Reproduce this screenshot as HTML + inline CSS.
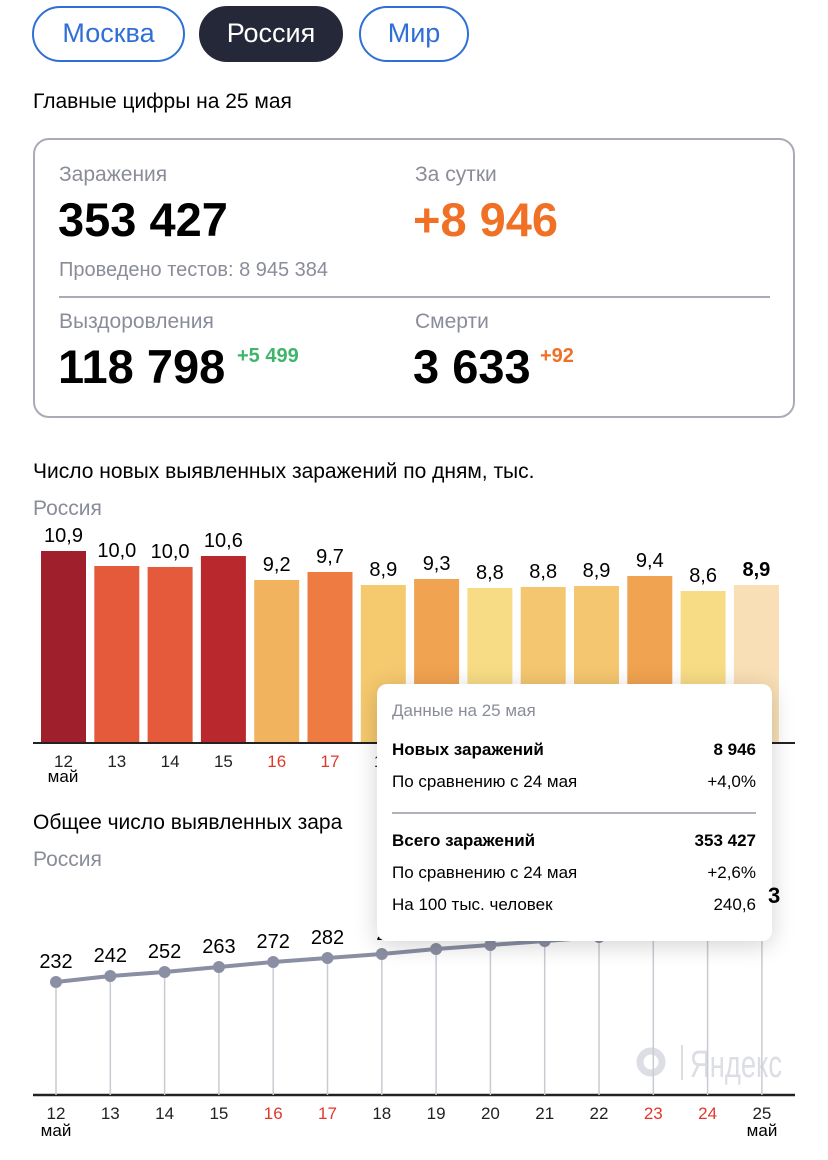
<!DOCTYPE html>
<html><head><meta charset="utf-8"><style>
body{margin:0;width:828px;height:1160px;background:#fff;font-family:"Liberation Sans","DejaVu Sans",sans-serif;position:relative;overflow:hidden;color:#000}
.a{position:absolute;white-space:nowrap}
.pill{position:absolute;top:6px;height:56px;border:2.5px solid #2f6fd6;border-radius:30px;box-sizing:border-box;color:#2f6fd6;font-size:27px;line-height:51px;text-align:center}
.g{color:#8a8d99}
</style></head><body>
<div class="pill" style="left:32px;width:153px">Москва</div>
<div class="pill" style="left:199px;width:144px;background:#252838;border-color:#252838;color:#fff">Россия</div>
<div class="pill" style="left:359px;width:110px">Мир</div>
<div class="a" style="left:33px;top:90px;font-size:21px">Главные цифры на 25 мая</div>
<div class="a" style="left:33px;top:138px;width:762px;height:280px;border:2px solid #a9acb6;border-radius:16px;box-sizing:border-box"></div>
<div class="a g" style="left:59px;top:163px;font-size:21px">Заражения</div>
<div class="a" style="left:58px;top:192px;font-size:47px;font-weight:bold">353 427</div>
<div class="a g" style="left:59px;top:259px;font-size:20px">Проведено тестов: 8 945 384</div>
<div class="a g" style="left:415px;top:163px;font-size:21px">За сутки</div>
<div class="a" style="left:413px;top:192px;font-size:47px;font-weight:bold;color:#f07026">+8 946</div>
<div class="a" style="left:59px;top:296px;width:711px;height:2px;background:#a9acb6"></div>
<div class="a g" style="left:59px;top:310px;font-size:21px">Выздоровления</div>
<div class="a" style="left:58px;top:339px;font-size:47px;font-weight:bold">118 798</div>
<div class="a" style="left:237px;top:345px;font-size:20px;font-weight:bold;color:#3fb56b">+5 499</div>
<div class="a g" style="left:415px;top:310px;font-size:21px">Смерти</div>
<div class="a" style="left:413px;top:339px;font-size:47px;font-weight:bold">3 633</div>
<div class="a" style="left:540px;top:345px;font-size:20px;font-weight:bold;color:#f07026">+92</div>
<div class="a" style="left:33px;top:460px;font-size:21px">Число новых выявленных заражений по дням, тыс.</div>
<div class="a g" style="left:33px;top:497px;font-size:21px">Россия</div>
<div class="a" style="left:33px;top:811px;font-size:21px">Общее число выявленных зара</div>
<div class="a g" style="left:33px;top:848px;font-size:21px">Россия</div>
<svg class="a" style="left:0;top:0" width="828" height="1160" font-family="Liberation Sans, sans-serif">
<g id="bars"></g>
<line x1="33" y1="743" x2="795" y2="743" stroke="#222" stroke-width="2"/>
<line x1="33" y1="1095" x2="795" y2="1095" stroke="#222" stroke-width="2.5"/>
<circle cx="651" cy="1062" r="11" fill="none" stroke="#dcdee4" stroke-width="7"/>
<line x1="682" y1="1045" x2="682" y2="1080" stroke="#dcdee4" stroke-width="2"/>
<text transform="translate(690,1077) scale(0.72,1)" fill="#dcdee4" font-size="38">Яндекс</text>
<g id="ln"></g>
</svg>
<div class="a" style="left:377px;top:684px;width:395px;height:257px;background:#fff;border-radius:10px;box-shadow:0 4px 24px rgba(0,0,0,0.18)">
<div class="a g" style="left:15px;top:17px;font-size:17px">Данные на 25 мая</div>
<div class="a" style="left:15px;top:56px;font-size:17px;font-weight:bold">Новых заражений</div>
<div class="a" style="right:16px;top:56px;font-size:17px;font-weight:bold">8 946</div>
<div class="a" style="left:15px;top:88px;font-size:17px">По сравнению с 24 мая</div>
<div class="a" style="right:16px;top:88px;font-size:17px">+4,0%</div>
<div class="a" style="left:15px;top:128px;width:364px;height:2px;background:#b0b2ba"></div>
<div class="a" style="left:15px;top:147px;font-size:17px;font-weight:bold">Всего заражений</div>
<div class="a" style="right:16px;top:147px;font-size:17px;font-weight:bold">353 427</div>
<div class="a" style="left:15px;top:179px;font-size:17px">По сравнению с 24 мая</div>
<div class="a" style="right:16px;top:179px;font-size:17px">+2,6%</div>
<div class="a" style="left:15px;top:211px;font-size:17px">На 100 тыс. человек</div>
<div class="a" style="right:16px;top:211px;font-size:17px">240,6</div>
</div>
<div class="a" style="left:768px;top:883px;font-size:22px;font-weight:bold">3</div>
<script>
var tops=[551,566,567,556,580,572,585,579,588,587,586,576,591,585];
var vals=["10,9","10,0","10,0","10,6","9,2","9,7","8,9","9,3","8,8","8,8","8,9","9,4","8,6","8,9"];
var cols=["#a01f2c","#e55a3b","#e55a3b","#b8282c","#f2b35e","#ee7b42","#f5c96e","#f0a350","#f7dc85","#f4c670","#f4c670","#f0a350","#f7dc85","#f9dfb5"];
var days=[12,13,14,15,16,17,18,19,20,21,22,23,24,25];
var s="";
for(var i=0;i<14;i++){var x=41+i*53.3;
s+='<rect x="'+x+'" y="'+tops[i]+'" width="45" height="'+(743-tops[i])+'" fill="'+cols[i]+'"/>';
s+='<text x="'+(x+22.5)+'" y="'+(tops[i]-9)+'" font-size="20" text-anchor="middle"'+(i==13?' font-weight="bold"':'')+'>'+vals[i]+'</text>';
var red=(i==4||i==5);
s+='<text x="'+(x+22.5)+'" y="767" font-size="17" text-anchor="middle" fill="'+(red?"#e0392b":"#222")+'">'+days[i]+'</text>';}
s+='<text x="63" y="782" font-size="17" text-anchor="middle">май</text>';
document.getElementById("bars").innerHTML=s;
var ly=[982,976,972,967,962,958,954,949,945,941,937,933,929,925];
var lv=["232","242","252","263","272","282","2"];
var t="";var pts="";
for(var i=0;i<14;i++){var x=56+i*54.3;pts+=x+","+ly[i]+" ";
t+='<line x1="'+x+'" y1="'+ly[i]+'" x2="'+x+'" y2="1095" stroke="#c9cbd3" stroke-width="1.5"/>';
var red=(i==4||i==5||i==11||i==12);
t+='<text x="'+x+'" y="1119" font-size="17" text-anchor="middle" fill="'+(red?"#e0392b":"#222")+'">'+days[i]+'</text>';}
t+='<polyline points="'+pts+'" fill="none" stroke="#8a8fa3" stroke-width="4"/>';
for(var i=0;i<14;i++){var x=56+i*54.3;t+='<circle cx="'+x+'" cy="'+ly[i]+'" r="6" fill="#8a8fa3"/>';
if(i<7)t+='<text x="'+x+'" y="'+(ly[i]-14)+'" font-size="20" text-anchor="middle">'+lv[i]+'</text>';}
t+='<text x="56" y="1136" font-size="17" text-anchor="middle">май</text><text x="762" y="1136" font-size="17" text-anchor="middle">май</text>';
document.getElementById("ln").innerHTML=t;
</script>
</body></html>
